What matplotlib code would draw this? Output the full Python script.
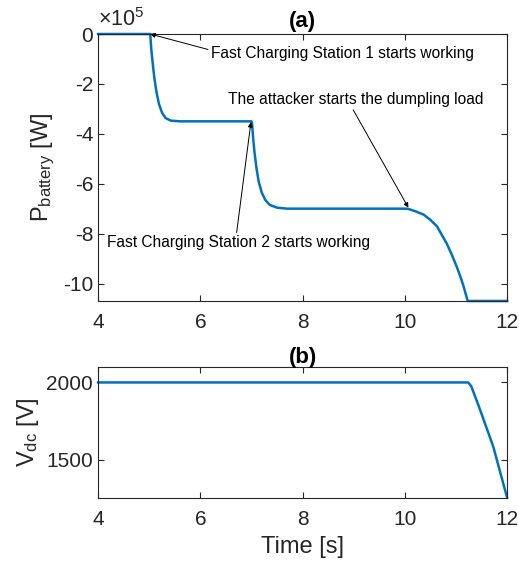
import matplotlib
matplotlib.use('Agg')
import matplotlib.pyplot as plt
from matplotlib.ticker import FuncFormatter

plt.rcParams['font.family'] = 'Liberation Sans'
plt.rcParams['mathtext.fontset'] = 'custom'
plt.rcParams['mathtext.rm'] = 'Liberation Sans'
plt.rcParams['mathtext.it'] = 'Liberation Sans:italic'
plt.rcParams['axes.unicode_minus'] = False

# (a) battery power (W)
t_p = [4.0, 5.02, 5.04, 5.07, 5.1, 5.14, 5.19, 5.25, 5.32, 5.42, 5.6, 7.0,
       7.01, 7.03, 7.06, 7.1, 7.14, 7.2, 7.27, 7.36, 7.5, 7.7, 10.0,
       10.07, 10.2, 10.37, 10.5, 10.63, 10.82, 10.92, 11.02, 11.1, 11.15, 11.23, 12.0]
p_bat = [0, 0, -0.6e5, -1.2e5, -1.75e5, -2.3e5, -2.8e5, -3.15e5, -3.37e5, -3.47e5, -3.5e5, -3.5e5,
         -3.55e5, -4.1e5, -4.75e5, -5.4e5, -5.9e5, -6.35e5, -6.65e5, -6.85e5, -6.96e5, -7.0e5, -7.0e5,
         -7.01e5, -7.1e5, -7.24e5, -7.45e5, -7.71e5, -8.4e5, -8.85e5, -9.35e5, -9.8e5, -10.12e5, -10.7e5, -10.7e5]

# (b) dc-link voltage (V)
t_v = [4.0, 11.24, 11.3, 11.47, 11.73, 12.0]
v_dc = [2000, 2000, 1975, 1825, 1584, 1254]

blue = '#0072BD'
dark = '#262626'

fig = plt.figure(figsize=(5.19, 5.63), dpi=100)
ax1 = fig.add_axes([0.189, 0.4654, 0.788, 0.4742])
ax2 = fig.add_axes([0.189, 0.1163, 0.788, 0.2318])

for ax in (ax1, ax2):
    ax.tick_params(direction='in', top=True, right=True, labelsize=15,
                   colors=dark, length=4, width=0.8)
    ax.tick_params(axis='x', pad=9)
    for s in ax.spines.values():
        s.set_color(dark)
        s.set_linewidth(0.8)
    ax.set_xlim(4, 12)
    ax.set_xticks([4, 6, 8, 10, 12])

ax1.plot(t_p, p_bat, color=blue, lw=1.8, clip_on=False)
ax1.set_ylim(-10.7e5, 0)
ax1.set_yticks([-10e5, -8e5, -6e5, -4e5, -2e5, 0])
ax1.yaxis.set_major_formatter(FuncFormatter(lambda v, _: f'{v / 1e5:g}'))
ax1.text(0.0, 1.01, r'$\times10^{5}$', transform=ax1.transAxes, fontsize=15.5,
         color=dark, ha='left', va='bottom')
ax1.set_ylabel(r'P$_{\mathrm{battery}}$ [W]', fontsize=17, color=dark, labelpad=4)
ax1.set_title('(a)', fontsize=16, fontweight='bold', pad=5)

arrow = dict(arrowstyle='-|>', color='black', lw=0.7, mutation_scale=7, shrinkA=0, shrinkB=0)
fs = 11.2
ax1.text(8.785, -0.8e5, 'Fast Charging Station 1 starts working', fontsize=fs, va='center', ha='center')
ax1.annotate('', xy=(5.02, 0), xytext=(6.15, -0.62e5), arrowprops=arrow)
ax1.text(9.03, -2.64e5, 'The attacker starts the dumpling load', fontsize=fs, va='center', ha='center')
ax1.annotate('', xy=(10.07, -6.96e5), xytext=(8.99, -3.04e5), arrowprops=arrow)
ax1.text(6.74, -8.36e5, 'Fast Charging Station 2 starts working', fontsize=fs, va='center', ha='center')
ax1.annotate('', xy=(6.99, -3.53e5), xytext=(6.71, -7.96e5), arrowprops=arrow)

ax2.plot(t_v, v_dc, color=blue, lw=1.8, clip_on=False)
ax2.set_ylim(1254, 2100)
ax2.set_yticks([1500, 2000])
ax2.set_ylabel(r'V$_{\mathrm{dc}}$ [V]', fontsize=17, color=dark, labelpad=4)
ax2.set_xlabel('Time [s]', fontsize=17, color=dark, labelpad=5)
ax2.set_title('(b)', fontsize=16, fontweight='bold', pad=3)

fig.savefig('out.png', dpi=100)
